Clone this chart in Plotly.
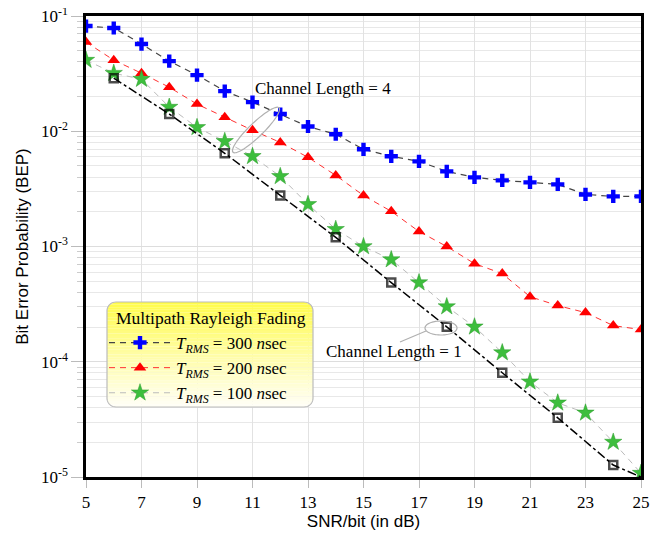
import numpy as np
import plotly.graph_objects as go

snr = list(range(5, 26))
bep_300 = [0.0818, 0.0787, 0.0571, 0.0406, 0.0307, 0.0223, 0.0179, 0.0141, 0.0110, 0.00942,
           0.00697, 0.00606, 0.00548, 0.00449, 0.00398, 0.00375, 0.00360, 0.00346, 0.00283,
           0.00272, 0.00272]
bep_200 = [0.0594, 0.0414, 0.0319, 0.0241, 0.0172, 0.0132, 0.0102, 0.0080, 0.00594, 0.00414,
           0.00277, 0.00202, 0.00135, 0.00100, 0.00071, 0.000582, 0.000367, 0.000307, 0.000267,
           0.000206, 0.000190]
bep_100 = [0.0414, 0.0319, 0.0283, 0.0162, 0.0108, 0.00818, 0.00606, 0.00406, 0.00232, 0.00141,
           0.00100, 0.00077, 0.000486, 0.000301, 0.000201, 0.000120, 0.000067, 0.000044,
           0.000036, 0.0000201, 0.0000108]
snr_cl1 = [6, 8, 10, 12, 14, 16, 18, 20, 22, 24, 25]
bep_cl1 = [0.0289, 0.0141, 0.00644, 0.00277, 0.00120, 0.000486, 0.000201, 0.0000802,
           0.0000326, 0.0000127, 0.0000100]
cl1_marker = [True] * 10 + [False]

legend_title = "Multipath Rayleigh Fading"
legend_names = ["<i>T</i><sub><i>RMS</i></sub> = 300 <i>n</i>sec",
                "<i>T</i><sub><i>RMS</i></sub> = 200 <i>n</i>sec",
                "<i>T</i><sub><i>RMS</i></sub> = 100 <i>n</i>sec"]

major_y = [1e-5, 1e-4, 1e-3, 1e-2, 1e-1]
major_y_text = ["10<sup>-5</sup>", "10<sup>-4</sup>", "10<sup>-3</sup>", "10<sup>-2</sup>", "10<sup>-1</sup>"]
minor_y = [m * 10.0 ** e for e in range(-5, -1) for m in range(2, 10)]
x_ticks = list(range(5, 26, 2))

SERIF = "Liberation Serif"
SANS = "Liberation Sans"

fig = go.Figure()
fig.add_trace(go.Scatter(x=snr, y=bep_300, mode="lines+markers", name=legend_names[0],
                         line=dict(color="#444444", width=1.2, dash="6px,5px"),
                         marker=dict(symbol="cross", size=11, color="#0000FF")))
fig.add_trace(go.Scatter(x=snr, y=bep_200, mode="lines+markers", name=legend_names[1],
                         line=dict(color="#FF3030", width=1.0, dash="6px,5px"),
                         marker=dict(symbol="triangle-up", size=11, color="#FF0000")))
fig.add_trace(go.Scatter(x=snr, y=bep_100, mode="lines+markers", name=legend_names[2],
                         line=dict(color="#BBBBBB", width=1.0, dash="6px,5px"),
                         marker=dict(symbol="star", size=13, color="#3DBE3D",
                                     line=dict(width=0.5, color="#2A9A2A"))))
fig.add_trace(go.Scatter(x=snr_cl1, y=bep_cl1, mode="lines+markers", showlegend=False,
                         line=dict(color="black", width=1.5, dash="dashdot"),
                         marker=dict(symbol="square-open", size=[8 if m else 0 for m in cl1_marker],
                                     color="black", line=dict(width=2.5, color="black"))))

# The page body has an 8 px margin; work in screen pixels and convert.
OFF = 8
W, H = 658 - OFF, 537 - OFF
L, R, T, B = 86, 641, 16, 477          # plot area in screen pixels
def px(x):
    return (x - L) / (R - L)
def py(y):
    return (B - y) / (B - T)

shapes = []
# legend background: rounded rect with vertical gradient
bx0, bx1, by0, by1, rad = 107, 313, 302, 407, 9
def inset(y):
    d = None
    if y < by0 + rad:
        d = by0 + rad - y
    elif y > by1 - rad:
        d = y - (by1 - rad)
    if d is None:
        return 0.0
    d = min(d, rad)
    return rad - np.sqrt(rad ** 2 - d ** 2)
N = 40
for i in range(N):
    ya = by0 + (by1 - by0) * i / N
    yb = by0 + (by1 - by0) * (i + 1) / N
    t = (i + 0.5) / N
    c0 = np.array([255, 252, 70])
    c1 = np.array([255, 255, 248])
    c = c0 + (c1 - c0) * t ** 0.9
    pts = [(bx0 + inset(ya), ya), (bx1 - inset(ya), ya), (bx1 - inset(yb), yb), (bx0 + inset(yb), yb)]
    path = "M" + " L".join(f"{px(a):.5f},{py(b):.5f}" for a, b in pts) + " Z"
    shapes.append(dict(type="path", xref="paper", yref="paper", path=path,
                       fillcolor=f"rgb({int(c[0])},{int(c[1])},{int(c[2])})",
                       line=dict(width=0), layer="above"))
# border
ys = np.linspace(by0, by1, 200)
left = [(bx0 + inset(y), y) for y in ys]
right = [(bx1 - inset(y), y) for y in ys[::-1]]
bpts = left + right
bpath = "M" + " L".join(f"{px(a):.5f},{py(b):.5f}" for a, b in bpts) + " Z"
shapes.append(dict(type="path", xref="paper", yref="paper", path=bpath,
                   line=dict(color="#BBBBBB", width=1.2), layer="above"))

# ellipses for annotations
def ellipse(cx, cy, a, b, ang_deg):
    th = np.linspace(0, 2 * np.pi, 80)
    ang = np.deg2rad(ang_deg)
    xs = cx + a * np.cos(th) * np.cos(ang) - b * np.sin(th) * np.sin(ang)
    ys_ = cy - (a * np.cos(th) * np.sin(ang) + b * np.sin(th) * np.cos(ang))
    return "M" + " L".join(f"{px(x):.5f},{py(y):.5f}" for x, y in zip(xs, ys_)) + " Z"
shapes.append(dict(type="path", xref="paper", yref="paper", path=ellipse(256, 130, 32, 7, 44),
                   line=dict(color="#B0B0B0", width=1.2), layer="above"))
shapes.append(dict(type="path", xref="paper", yref="paper", path=ellipse(441, 328, 16, 7, 0),
                   line=dict(color="#B0B0B0", width=1.2), layer="above"))
shapes.append(dict(type="line", xref="paper", yref="paper", x0=px(400), y0=py(342), x1=px(426), y1=py(331),
                   line=dict(color="#B0B0B0", width=1.2), layer="above"))

annotations = [
    dict(text="Channel Length = 4", x=px(323), y=py(88), xref="paper", yref="paper",
         xanchor="center", yanchor="middle",
         showarrow=False, font=dict(family=SERIF, size=17, color="black")),
    dict(text="Channel Length = 1", x=px(394), y=py(352), xref="paper", yref="paper",
         xanchor="center", yanchor="middle",
         showarrow=False, font=dict(family=SERIF, size=17, color="black")),
    dict(text=legend_title, x=px(211), y=py(318), xref="paper", yref="paper",
         xanchor="center", yanchor="middle",
         showarrow=False, font=dict(family=SERIF, size=17.5, color="black")),
]

fig.update_layout(
    width=W, height=H,
    margin=dict(l=L - OFF, r=658 - R, t=T - OFF, b=537 - B, autoexpand=False),
    paper_bgcolor="white", plot_bgcolor="white",
    shapes=shapes, annotations=annotations,
    legend=dict(x=px(104), y=py(325), xanchor="left", yanchor="top",
                bgcolor="rgba(0,0,0,0)", borderwidth=0,
                font=dict(family=SERIF, size=17, color="black"),
                itemwidth=62, tracegroupgap=0),
    xaxis=dict(range=[5, 25], tickvals=x_ticks, ticks="outside", ticklen=8, tickcolor="#BBBBBB",
               showgrid=True, gridcolor="#E2E2E2", gridwidth=1, automargin=False,
               showline=True, mirror=True, linecolor="black", linewidth=2.5,
               tickfont=dict(family=SERIF, size=17, color="black"), ticklabeloverflow="allow",
               title=dict(text="SNR/bit (in dB)", font=dict(family=SANS, size=17, color="black"), standoff=4),
               zeroline=False),
    yaxis=dict(type="log", range=[-5, -1], tickvals=major_y, ticktext=major_y_text,
               ticks="outside", ticklen=12, tickcolor="#BBBBBB", automargin=False,
               showgrid=True, gridcolor="#DDDDDD", gridwidth=1, ticklabeloverflow="allow",
               minor=dict(tickvals=minor_y, ticks="outside", ticklen=6, tickcolor="#CCCCCC",
                          showgrid=True, gridcolor="#E8E8E8", gridwidth=1),
               showline=True, mirror=True, linecolor="black", linewidth=2.5,
               tickfont=dict(family=SERIF, size=17, color="black"),
               title=dict(text="Bit Error Probability (BEP)", font=dict(family=SANS, size=17, color="black"), standoff=8),
               zeroline=False),
)

fig.write_html("out.html")
